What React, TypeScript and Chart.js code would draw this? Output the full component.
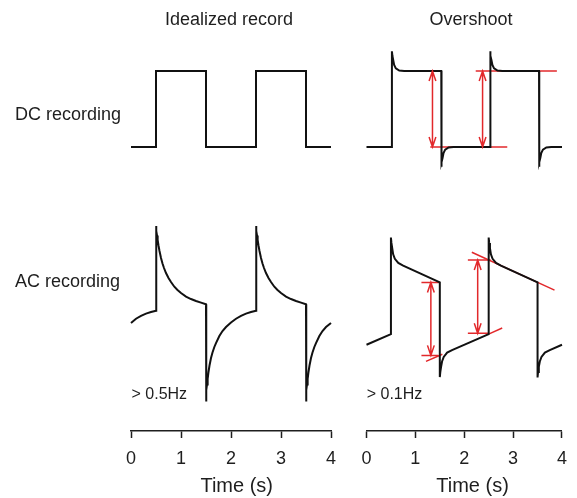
import React, { useEffect, useRef } from 'react';
import { Chart, registerables } from 'chart.js';

Chart.register(...registerables);

const FONT = "'Liberation Sans', Arial, Helvetica, sans-serif";
const RED = '#e2282b';
const BLACK = '#111111';
const TEXT = '#1e1e1e';

// ---------- data (time in s, amplitude in units of one step) ----------
const xTickValues = [0, 1, 2, 3, 4];

// DC, idealized
const dcIdealT = [0, 0.5, 0.5, 1.5, 1.5, 2.5, 2.5, 3.5, 3.5, 4];
const dcIdealV = [0, 0, 1, 1, 0, 0, 1, 1, 0, 0];

// DC, overshoot
const dcOverT = [
  0, 0.52, 0.52, 0.53, 0.546, 0.566, 0.6, 0.67, 0.77,
  1.53, 1.53, 1.54, 1.556, 1.576, 1.61, 1.68, 1.78,
  2.53, 2.53, 2.54, 2.556, 2.576, 2.61, 2.68, 2.78,
  3.53, 3.53, 3.54, 3.556, 3.576, 3.61, 3.68, 3.78, 4,
];
const dcOverV = [
  0, 0, 1.26, 1.2, 1.145, 1.08, 1.035, 1.005, 1.0,
  1.0, -0.26, -0.2, -0.145, -0.08, -0.035, -0.005, 0,
  0, 1.26, 1.2, 1.145, 1.08, 1.035, 1.005, 1.0,
  1.0, -0.26, -0.2, -0.145, -0.08, -0.035, -0.005, 0, 0,
];

// AC (> 0.5 Hz), idealized
const acIdealT = [
  0, 0.1, 0.2, 0.3, 0.4, 0.5,
  0.5, 0.51, 0.52, 0.533, 0.55, 0.57, 0.6, 0.63, 0.66, 0.7, 0.75, 0.8, 0.867, 0.93,
  1.0, 1.1, 1.2, 1.3, 1.4, 1.5,
  1.5, 1.505, 1.51, 1.52, 1.533, 1.55, 1.57, 1.6, 1.63, 1.667, 1.7, 1.767, 1.83, 1.9,
  2.0, 2.1, 2.2, 2.3, 2.4, 2.5,
  2.5, 2.51, 2.52, 2.533, 2.55, 2.57, 2.6, 2.63, 2.66, 2.7, 2.75, 2.8, 2.867, 2.93,
  3.0, 3.1, 3.2, 3.3, 3.4, 3.5,
  3.5, 3.505, 3.51, 3.52, 3.533, 3.55, 3.57, 3.6, 3.63, 3.667, 3.7, 3.767, 3.83, 3.9, 4.0,
];
const acIdealV = [
  -0.118, -0.062, -0.024, 0.005, 0.026, 0.043,
  1.158, 1.092, 1.033, 0.974, 0.901, 0.829, 0.737, 0.664, 0.605, 0.539, 0.474, 0.421, 0.359, 0.316,
  0.276, 0.23, 0.197, 0.171, 0.149, 0.128,
  -1.151, -1.066, -1.0, -0.928, -0.855, -0.763, -0.678, -0.579, -0.507, -0.434, -0.382, -0.289, -0.224, -0.171,
  -0.112, -0.062, -0.024, 0.005, 0.026, 0.043,
  1.158, 1.092, 1.033, 0.974, 0.901, 0.829, 0.737, 0.664, 0.605, 0.539, 0.474, 0.421, 0.359, 0.316,
  0.276, 0.23, 0.197, 0.171, 0.149, 0.128,
  -1.151, -1.066, -1.0, -0.928, -0.855, -0.763, -0.678, -0.579, -0.507, -0.434, -0.382, -0.289, -0.224, -0.171, -0.118,
];

// AC (> 0.1 Hz), overshoot
const acOverT = [
  0, 0.5,
  0.5, 0.51, 0.526, 0.546, 0.58, 0.65, 0.75, 1.5,
  1.5, 1.51, 1.526, 1.546, 1.58, 1.65, 1.75, 2.5,
  2.5, 2.51, 2.526, 2.546, 2.58, 2.65, 2.75, 3.5,
  3.5, 3.51, 3.526, 3.546, 3.58, 3.65, 3.75, 4,
];
const acOverV = [
  -0.49, -0.35,
  0.92, 0.85, 0.78, 0.7, 0.64, 0.587, 0.551, 0.33,
  -0.915, -0.85, -0.78, -0.71, -0.65, -0.594, -0.56, -0.35,
  0.92, 0.85, 0.78, 0.7, 0.64, 0.587, 0.551, 0.33,
  -0.92, -0.85, -0.78, -0.71, -0.65, -0.594, -0.56, -0.49,
];

// red guide lines: [t0, t1], [v0, v1]
const dcGuideT = [[1.305, 2.88], [2.235, 3.895]];
const dcGuideV = [[0, 0], [1, 1]];
const acGuideT = [[1.124, 1.506], [1.124, 1.47], [1.217, 1.552], [2.074, 2.54], [2.074, 2.51], [2.155, 3.847], [2.51, 2.777]];
const acGuideV = [[0.33, 0.33], [-0.63, -0.63], [-0.709, -0.615], [0.625, 0.625], [-0.34, -0.34], [0.727, 0.228], [-0.347, -0.27]];

// double-headed arrows: time, top value, bottom value
const dcArrowT = [1.35, 2.375];
const dcArrowTop = [1, 1];
const dcArrowBottom = [0, 0];
const acArrowT = [1.317, 2.275];
const acArrowTop = [0.33, 0.625];
const acArrowBottom = [-0.63, -0.34];

// ---------- layout ----------
const W = 577;
const H = 498;
const AREA_TOP = 30;
const AREA_BOTTOM = 431;
const PX_PER_UNIT = 76;

function range(zeroPx: number) {
  return { min: -(AREA_BOTTOM - zeroPx) / PX_PER_UNIT, max: (zeroPx - AREA_TOP) / PX_PER_UNIT };
}

function pts(t: number[], v: number[]) {
  return t.map((x, i) => ({ x, y: v[i] }));
}

type TextItem = { text: string; x: number; y: number; align: CanvasTextAlign; size: number };
type ArrowSet = { axis: string; t: number[]; top: number[]; bottom: number[] };

function annotPlugin(texts: TextItem[], arrows: ArrowSet[]) {
  return {
    id: 'annot',
    afterDatasetsDraw(chart: any) {
      const ctx = chart.ctx as CanvasRenderingContext2D;
      const xs = chart.scales.x;
      ctx.save();
      ctx.strokeStyle = RED;
      ctx.lineWidth = 1.5;
      ctx.lineCap = 'butt';
      ctx.lineJoin = 'miter';
      arrows.forEach((a) => {
        const ys = chart.scales[a.axis];
        a.t.forEach((t, i) => {
          const x = xs.getPixelForValue(t);
          const y1 = ys.getPixelForValue(a.top[i]);
          const y2 = ys.getPixelForValue(a.bottom[i]);
          const hw = 3.4;
          const hl = 10;
          ctx.beginPath();
          ctx.moveTo(x, y1);
          ctx.lineTo(x, y2);
          ctx.moveTo(x - hw, y1 + hl);
          ctx.lineTo(x, y1);
          ctx.lineTo(x + hw, y1 + hl);
          ctx.moveTo(x - hw, y2 - hl);
          ctx.lineTo(x, y2);
          ctx.lineTo(x + hw, y2 - hl);
          ctx.stroke();
        });
      });
      ctx.restore();
    },
    afterDraw(chart: any) {
      const ctx = chart.ctx as CanvasRenderingContext2D;
      ctx.save();
      ctx.fillStyle = TEXT;
      ctx.textBaseline = 'alphabetic';
      texts.forEach((t) => {
        ctx.font = `${t.size}px ${FONT}`;
        ctx.textAlign = t.align;
        ctx.fillText(t.text, t.x, t.y);
      });
      ctx.restore();
    },
  };
}

function traceDs(data: { x: number; y: number }[], yAxisID: string) {
  return {
    data,
    yAxisID,
    borderColor: BLACK,
    borderWidth: 2,
    pointRadius: 0,
    tension: 0,
    fill: false,
    clip: 6,
  };
}

function guideDs(t: number[][], v: number[][], yAxisID: string) {
  return t.map((tt, i) => ({
    data: pts(tt, v[i]),
    yAxisID,
    borderColor: RED,
    borderWidth: 1.5,
    pointRadius: 0,
    tension: 0,
    fill: false,
    clip: 6,
  }));
}

function makeConfig(opts: {
  datasets: any[];
  padLeft: number;
  padRight: number;
  botZero: number;
  texts: TextItem[];
  arrows: ArrowSet[];
}) {
  const top = range(147);
  const bot = range(opts.botZero);
  return {
    type: 'line' as const,
    data: { datasets: opts.datasets },
    options: {
      responsive: false,
      animation: false,
      events: [],
      layout: { padding: { left: opts.padLeft, right: opts.padRight, top: AREA_TOP, bottom: 18.4 } },
      plugins: { legend: { display: false }, tooltip: { enabled: false }, title: { display: false } },
      scales: {
        x: {
          type: 'linear',
          min: 0,
          max: 4,
          afterBuildTicks: (scale: any) => {
            scale.ticks = xTickValues.map((value) => ({ value }));
          },
          ticks: {
            font: { family: FONT, size: 18 },
            color: TEXT,
            padding: 10,
            maxRotation: 0,
            autoSkip: false,
          },
          grid: {
            drawOnChartArea: false,
            drawTicks: true,
            tickLength: 7,
            tickWidth: 1.5,
            tickColor: TEXT,
          },
          border: { display: true, color: TEXT, width: 1.5 },
        },
        yTop: { type: 'linear', display: false, min: top.min, max: top.max },
        yBot: { type: 'linear', display: false, min: bot.min, max: bot.max },
      },
    },
    plugins: [annotPlugin(opts.texts, opts.arrows)],
  };
}

function Panel(props: { left: number; width: number; config: any }) {
  const ref = useRef<HTMLCanvasElement>(null);
  useEffect(() => {
    if (!ref.current) return;
    const chart = new Chart(ref.current, props.config);
    return () => chart.destroy();
  }, []);
  return (
    <canvas
      ref={ref}
      width={props.width}
      height={H}
      style={{ position: 'absolute', left: props.left, top: 0, width: props.width, height: H }}
    />
  );
}

export default function App() {
  const leftConfig = makeConfig({
    datasets: [
      traceDs(pts(dcIdealT, dcIdealV), 'yTop'),
      traceDs(pts(acIdealT, acIdealV), 'yBot'),
    ],
    padLeft: 131,
    padRight: 19,
    botZero: 314,
    texts: [
      { text: 'Idealized record', x: 229, y: 25, align: 'center', size: 18 },
      { text: 'DC recording', x: 15, y: 119.5, align: 'left', size: 18 },
      { text: 'AC recording', x: 15, y: 286.5, align: 'left', size: 18 },
      { text: '> 0.5Hz', x: 131.5, y: 399, align: 'left', size: 16 },
      { text: 'Time (s)', x: 236.7, y: 491.5, align: 'center', size: 20 },
    ],
    arrows: [],
  });
  const rightConfig = makeConfig({
    datasets: [
      traceDs(pts(dcOverT, dcOverV), 'yTop'),
      traceDs(pts(acOverT, acOverV), 'yBot'),
      ...guideDs(dcGuideT, dcGuideV, 'yTop'),
      ...guideDs(acGuideT, acGuideV, 'yBot'),
    ],
    padLeft: 16.5,
    padRight: 11,
    botZero: 307.5,
    texts: [
      { text: 'Overshoot', x: 121, y: 25, align: 'center', size: 18 },
      { text: '> 0.1Hz', x: 16.7, y: 398.5, align: 'left', size: 16 },
      { text: 'Time (s)', x: 122.5, y: 491.5, align: 'center', size: 20 },
    ],
    arrows: [
      { axis: 'yTop', t: dcArrowT, top: dcArrowTop, bottom: dcArrowBottom },
      { axis: 'yBot', t: acArrowT, top: acArrowTop, bottom: acArrowBottom },
    ],
  });
  return (
    <div style={{ position: 'fixed', left: 0, top: 0, width: W, height: H, background: '#fff', overflow: 'hidden' }}>
      <Panel left={0} width={350} config={leftConfig} />
      <Panel left={350} width={227} config={rightConfig} />
    </div>
  );
}
